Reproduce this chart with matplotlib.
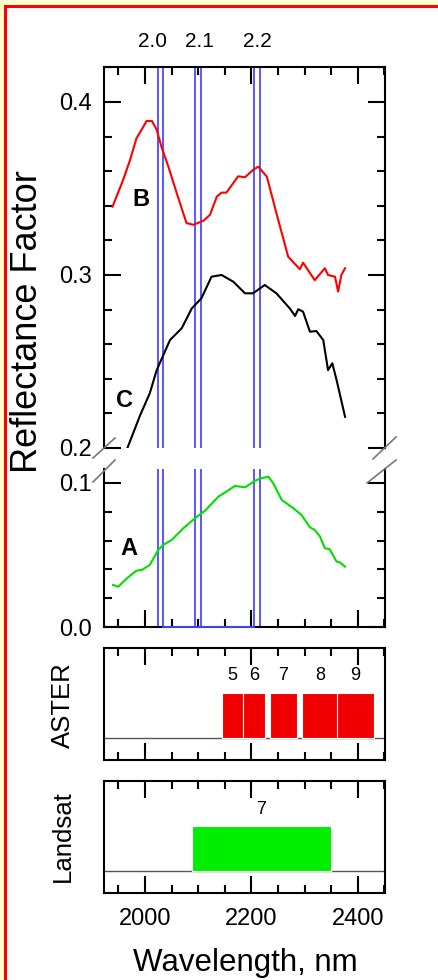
import numpy as np
import matplotlib
matplotlib.use('Agg')
import matplotlib.pyplot as plt
from matplotlib.patches import Rectangle
from matplotlib.ticker import MultipleLocator

plt.rcParams['font.family'] = ['Liberation Sans', 'DejaVu Sans']

# spectrum B (red), upper panel
wl_B = [1939, 1959, 1972, 1984, 1997, 2003, 2013, 2022, 2031, 2044, 2060, 2078, 2091,
        2110, 2122, 2135, 2144, 2153, 2175, 2188, 2203, 2213, 2229, 2247, 2269, 2291,
        2297, 2319, 2338, 2344, 2357, 2363, 2369, 2376]
refl_B = [0.3395, 0.355, 0.3665, 0.379, 0.3857, 0.389, 0.389, 0.384, 0.374, 0.3626, 0.347,
          0.330, 0.329, 0.3314, 0.3347, 0.3453, 0.3476, 0.3476, 0.357, 0.3565, 0.3607,
          0.3626, 0.3568, 0.3357, 0.3106, 0.3033, 0.3071, 0.297, 0.3039, 0.300, 0.299,
          0.2904, 0.300, 0.3039]

# spectrum C (black), upper panel
wl_C = [1962, 1967, 1991, 2009, 2022, 2047, 2069, 2088, 2106, 2125, 2144, 2166, 2188, 2203,
        2225, 2247, 2272, 2282, 2288, 2297, 2310, 2322, 2335, 2344, 2352, 2360, 2376]
refl_C = [0.19, 0.2, 0.219, 0.2316, 0.245, 0.2624, 0.2692, 0.2807, 0.2865, 0.299, 0.300,
          0.2961, 0.2894, 0.2894, 0.2942, 0.2894, 0.2807, 0.2763, 0.2802, 0.2788, 0.2672,
          0.2676, 0.2624, 0.245, 0.249, 0.2393, 0.218]

# spectrum A (green), lower panel
wl_A = [1940, 1950, 1966, 1984, 1994, 2009, 2025, 2034, 2050, 2072, 2094, 2113, 2138, 2153,
        2169, 2188, 2207, 2219, 2232, 2241, 2257, 2279, 2294, 2310, 2319, 2329, 2338, 2347,
        2360, 2366, 2376]
refl_A = [0.0292, 0.028, 0.0338, 0.0391, 0.0396, 0.0431, 0.0535, 0.0569, 0.0604, 0.0685,
          0.0755, 0.0808, 0.0905, 0.094, 0.0979, 0.097, 0.1016, 0.1033, 0.1044, 0.0998,
          0.0882, 0.0824, 0.0778, 0.0692, 0.0674, 0.0627, 0.0547, 0.054, 0.0454, 0.0449,
          0.0419]

# absorption feature markers (nm)
blue_lines = [2024, 2034, 2094, 2105, 2205, 2216]
feature_labels = ['2.0', '2.1', '2.2']
feature_pos = [2015, 2103, 2212]

# sensor bands (nm)
aster_start = [2145, 2185, 2235, 2295, 2360]
aster_end = [2185, 2225, 2285, 2365, 2430]
aster_names = ['5', '6', '7', '8', '9']
landsat_start = [2088]
landsat_end = [2350]
landsat_names = ['7']

W, H = 438, 980
fig = plt.figure(figsize=(W / 100, H / 100), dpi=100, facecolor='#FFFFCC')
fig.patches.append(Rectangle((5 / W, -0.1), 1.2, 1.1 - 6 / H, transform=fig.transFigure,
                             facecolor='white', edgecolor='#FF0000', lw=2.2, zorder=-5))


def ax_at(top, bottom):
    return fig.add_axes([104 / W, 1 - bottom / H, (385 - 104) / W, (bottom - top) / H])


ax_up = ax_at(67, 448)
ax_lo = ax_at(469, 627)
ax_as = ax_at(648, 760)
ax_ls = ax_at(781, 893)

xlim = (1923, 2451)
for ax in (ax_up, ax_lo, ax_as, ax_ls):
    ax.set_xlim(*xlim)
    for s in ax.spines.values():
        s.set_linewidth(1.5)
    ax.xaxis.set_major_locator(MultipleLocator(200))
    ax.xaxis.set_minor_locator(MultipleLocator(50))
    ax.tick_params(which='both', direction='in', width=1.5, labelsize=17, pad=9)
    ax.tick_params(which='major', length=12)
    ax.tick_params(which='minor', length=6)

# main spectra panels
ax_up.set_ylim(0.2, 0.4202)
ax_lo.set_ylim(0, 0.1097)
ax_up.spines['bottom'].set_visible(False)
ax_lo.spines['top'].set_visible(False)
ax_up.tick_params(axis='x', which='both', bottom=False, top=True, labelbottom=False)
ax_lo.tick_params(axis='x', which='both', bottom=True, top=False, labelbottom=False)
for ax in (ax_up, ax_lo):
    ax.yaxis.set_major_locator(MultipleLocator(0.1))
    ax.yaxis.set_minor_locator(MultipleLocator(0.02))
    ax.tick_params(axis='y', which='both', left=True, right=True)
    ax.yaxis.set_major_formatter(plt.FormatStrFormatter('%.1f'))
    for xv in blue_lines:
        ax.axvline(xv, color='#4a4aff', lw=1.3, zorder=1)

ax_up.plot(wl_B, refl_B, color='#FF0000', lw=1.5, zorder=3)
ax_up.plot(wl_C, refl_C, color='black', lw=1.5, zorder=3)
ax_lo.plot(wl_A, refl_A, color='#00E000', lw=1.5, zorder=3)
ax_lo.plot([blue_lines[1], blue_lines[4]], [0, 0], color='#4a4aff', lw=1.3, zorder=4,
           clip_on=False)

ax_up.text(1992, 0.3434, 'B', fontsize=17, fontweight='bold', ha='center', va='center')
ax_up.text(1962, 0.2275, 'C', fontsize=17, fontweight='bold', ha='center', va='center')
ax_lo.text(1969, 0.0545, 'A', fontsize=17, fontweight='bold', ha='center', va='center')

for lab, xv in zip(feature_labels, feature_pos):
    ax_up.text(xv, 1.066, lab, transform=ax_up.get_xaxis_transform(), fontsize=15,
               ha='center', va='center')

# axis break marks
def slash(xpix, ypix, dx1, dy1, dx2, dy2):
    fig.add_artist(plt.Line2D([(xpix + dx1) / W, (xpix + dx2) / W],
                              [1 - (ypix + dy1) / H, 1 - (ypix + dy2) / H],
                              color='#777777', lw=1.2))

slash(104, 448, -11, 10, 11, -10)
slash(104, 471, -11, 11, 11, -11)
slash(385, 448, -12, 11, 11, -11)
slash(385, 471, -18, 12, 11, -11)

# sensor band panels
for ax, st, en, names, col in ((ax_as, aster_start, aster_end, aster_names, '#F00000'),
                               (ax_ls, landsat_start, landsat_end, landsat_names, '#00EE00')):
    ax.set_ylim(0, 1)
    ax.set_yticks([])
    ax.tick_params(axis='x', which='both', bottom=True, top=True, labelbottom=False)
    ax.axhline(0.2, color='#555555', lw=1.0)
    widths = np.array(en) - np.array(st)
    ax.bar(st, 0.4, width=widths, bottom=0.2, align='edge', color=col,
           edgecolor='white', lw=0.8, zorder=2)
    for s, e, n in zip(st, en, names):
        ax.text((s + e) / 2, 0.75, n, fontsize=13, ha='center', va='center')

ax_ls.tick_params(axis='x', labelbottom=True, pad=11)

fig.text(28 / W, 1 - 322 / H, 'Reflectance Factor', rotation=90, fontsize=26,
         ha='center', va='center')
fig.text(63 / W, 1 - 705 / H, 'ASTER', rotation=90, fontsize=18.5, ha='center', va='center')
fig.text(63 / W, 1 - 836 / H, 'Landsat', rotation=90, fontsize=18.5, ha='center', va='center')
fig.text(245 / W, 1 - 963 / H, 'Wavelength, nm', fontsize=22.5, ha='center', va='center')

fig.savefig('out.png', dpi=100, facecolor=fig.get_facecolor())
